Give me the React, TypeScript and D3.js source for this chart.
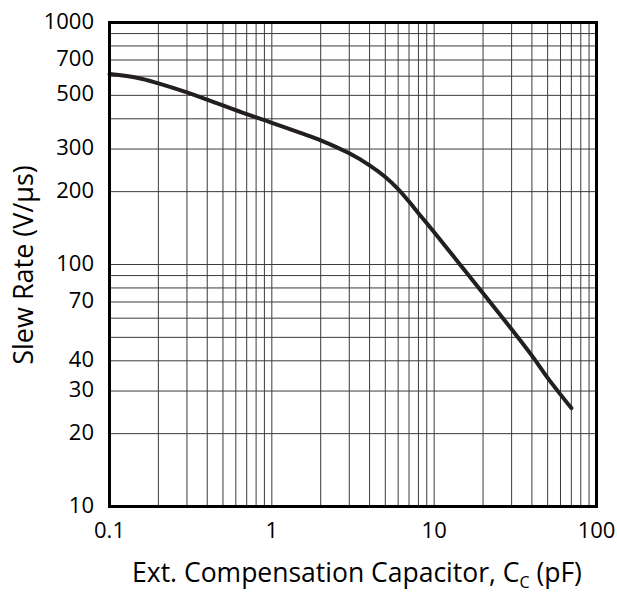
import React from "react";
import * as d3 from "d3";

const capPF = [0.1, 0.15, 0.2, 0.3, 0.4, 0.5, 0.7, 1, 1.5, 2, 3, 4, 5, 6, 7, 8, 10, 20, 30, 40, 50, 70];
const slewRate = [612, 590, 560, 514, 480, 454, 418, 385, 350, 326, 288, 257, 230, 205, 182, 163, 136, 76, 54, 42, 34, 25.5];

const xTickLabels = [0.1, 1, 10, 100];
const yTickLabels = [1000, 700, 500, 300, 200, 100, 70, 40, 30, 20, 10];

const W = 617;
const H = 595;
const M = { left: 109.5, right: 596.5, top: 22.5, bottom: 506.5 };
const FONT = "'Open Sans', Lato, sans-serif";

function minorTicks(lo: number, hi: number): number[] {
  const out: number[] = [];
  for (let d = lo; d < hi; d *= 10) {
    for (let k = 1; k <= 9; k++) out.push(d * k);
  }
  out.push(hi);
  return out;
}

export default function App() {
  const x = d3.scaleLog().domain([0.1, 100]).range([M.left, M.right]);
  const y = d3.scaleLog().domain([10, 1000]).range([M.bottom, M.top]);
  const xGrid = minorTicks(0.1, 100);
  const yGrid = minorTicks(10, 1000);
  const line = d3
    .line<number>()
    .x((_, i) => x(capPF[i]))
    .y((d) => y(d))
    .curve(d3.curveCatmullRom.alpha(0.5));

  return (
    <svg width={W} height={H} style={{ position: "absolute", left: 0, top: 0, background: "#fff" }}>
      <rect x={0} y={0} width={W} height={H} fill="#fff" />
      {xGrid.map((v, i) => (
        <line key={"xg" + i} x1={x(v)} x2={x(v)} y1={M.top} y2={M.bottom} stroke="#3a3a3a" strokeWidth={1} />
      ))}
      {yGrid.map((v, i) => (
        <line key={"yg" + i} x1={M.left} x2={M.right} y1={y(v)} y2={y(v)} stroke="#3a3a3a" strokeWidth={1} />
      ))}
      <path d={line(slewRate) || ""} fill="none" stroke="#231f20" strokeWidth={4} strokeLinecap="round" strokeLinejoin="round" />
      <rect x={M.left} y={M.top} width={M.right - M.left} height={M.bottom - M.top} fill="none" stroke="#000" strokeWidth={3} />
      {yTickLabels.map((v) => (
        <text key={"yl" + v} x={94} y={y(v) + 6} textAnchor="end" fontFamily={FONT} fontSize={22} fill="#000">
          {v}
        </text>
      ))}
      {xTickLabels.map((v) => (
        <text key={"xl" + v} x={x(v)} y={538} textAnchor="middle" fontFamily={FONT} fontSize={22} fill="#000">
          {v}
        </text>
      ))}
      <text x={357} y={582} textAnchor="middle" fontFamily={FONT} fontSize={26.5} fill="#000">
        Ext. Compensation Capacitor, C<tspan fontSize={16} dy={6}>C</tspan>
        <tspan dy={-6}> (pF)</tspan>
      </text>
      <text transform={`translate(33,265) rotate(-90)`} textAnchor="middle" fontFamily={FONT} fontSize={27} fill="#000">
        Slew Rate (V/µs)
      </text>
    </svg>
  );
}
